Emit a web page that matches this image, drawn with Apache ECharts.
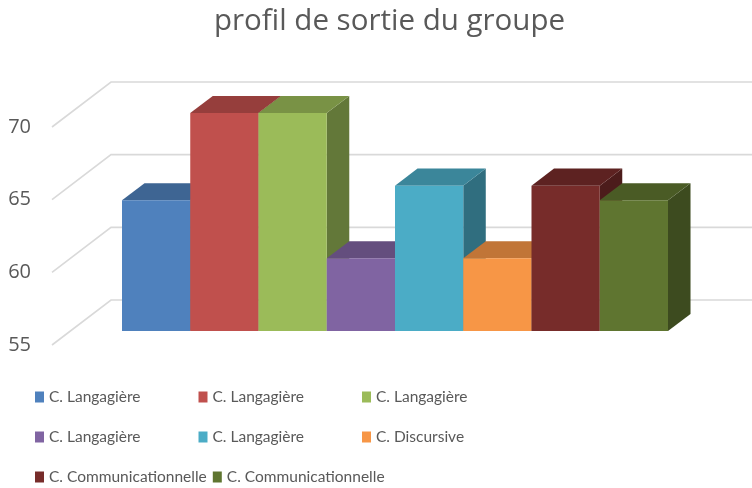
<!DOCTYPE html>
<html>
<head>
<meta charset="utf-8">
<script src="https://cdn.jsdelivr.net/npm/echarts@6/dist/echarts.min.js"></script>
<style>
  html, body { margin: 0; padding: 0; background: #fff; }
  #chart { width: 752px; height: 488px; }
</style>
</head>
<body>
<div id="chart"></div>
<script>
  const titleText = 'profil de sortie du groupe';
  const seriesNames = ['C. Langagière', 'C. Langagière', 'C. Langagière', 'C. Langagière',
    'C. Langagière', 'C. Discursive', 'C. Communicationnelle', 'C. Communicationnelle'];
  const seriesValues = [64, 70, 70, 60, 65, 60, 65, 64];
  const seriesColors = ['#4F81BD', '#C0504D', '#9BBB59', '#8064A2', '#4BACC6', '#F79646', '#772C2A', '#5F7530'];
  const yTicks = [55, 60, 65, 70];
  const slots = seriesNames.map((n, i) => 's' + i);

  const textColor = '#595959';

  // legend keys must be unique, the label strips the suffix
  const uid = i => seriesNames[i] + '#' + i;

  function shade(hex, f) {
    const n = parseInt(hex.slice(1), 16);
    const r = Math.round(((n >> 16) & 255) * f);
    const g = Math.round(((n >> 8) & 255) * f);
    const b = Math.round((n & 255) * f);
    return 'rgb(' + r + ',' + g + ',' + b + ')';
  }

  // one 3D column: side, top, then front face
  function renderBar(params, api) {
    const i = api.value(0);
    const top = api.coord([i, api.value(1)]);
    const base = api.coord([i, yTicks[0]]);
    const bw = api.size([1, 0])[0];
    const x0 = top[0] - bw / 2, x1 = top[0] + bw / 2;
    const dx = bw * 0.33, dy = -bw * 0.25;
    const color = api.visual('color');
    return {
      type: 'group',
      children: [
        { type: 'polygon', shape: { points: [[x1, top[1]], [x1 + dx, top[1] + dy], [x1 + dx, base[1] + dy], [x1, base[1]]] },
          style: { fill: shade(color, 0.64) } },
        { type: 'polygon', shape: { points: [[x0, top[1]], [x0 + dx, top[1] + dy], [x1 + dx, top[1] + dy], [x1, top[1]]] },
          style: { fill: shade(color, 0.78) } },
        { type: 'rect', shape: { x: x0, y: top[1], width: bw, height: base[1] - top[1] },
          style: { fill: color } }
      ]
    };
  }

  // side and back wall gridlines, one per y tick
  function renderWall(params, api) {
    const cs = params.coordSys;
    const p = api.coord([0, api.value(1)]);
    return {
      type: 'polyline',
      shape: { points: [[cs.x - 70, p[1] + 14], [cs.x - 11, p[1] - 31], [cs.x + cs.width + 200, p[1] - 31]] },
      style: { stroke: '#d9d9d9', lineWidth: 1.6, fill: null }
    };
  }

  const series = [{
    type: 'custom',
    name: 'wall',
    silent: true,
    z: 1,
    renderItem: renderWall,
    data: yTicks.map(v => [0, v])
  }];
  seriesValues.forEach((v, i) => {
    series.push({
      type: 'custom',
      name: uid(i),
      z: 2 + i,
      itemStyle: { color: seriesColors[i] },
      renderItem: renderBar,
      data: [[i, v]]
    });
  });

  // three legend rows, the first two on fixed columns
  const legendRows = [[0, 1, 2], [3, 4, 5], [6, 7]];
  const legend = legendRows.map((row, r) => ({
    orient: 'horizontal',
    left: 35,
    top: 387 + r * 40,
    padding: 0,
    itemGap: r < 2 ? 0 : 6,
    itemWidth: 9,
    itemHeight: 11,
    icon: 'rect',
    selectedMode: false,
    data: row.map(uid),
    formatter: name => name.split('#')[0],
    textStyle: Object.assign(
      { fontFamily: 'Lato', fontSize: 15.5, color: textColor, lineHeight: 20 },
      r < 2 ? { width: 149.5 } : {}
    )
  }));

  const chart = echarts.init(document.getElementById('chart'));
  chart.setOption({
    animation: false,
    title: {
      text: titleText,
      left: 214,
      top: 7,
      padding: 0,
      textStyle: { fontFamily: 'Open Sans', fontSize: 29.5, fontWeight: 'normal', color: textColor }
    },
    grid: { left: 122, right: 84, top: 113, bottom: 157 },
    xAxis: {
      type: 'category',
      data: slots,
      show: false
    },
    yAxis: {
      type: 'value',
      min: 55,
      max: 70,
      interval: 5,
      axisLine: { show: false },
      axisTick: { show: false },
      splitLine: { show: false },
      axisLabel: {
        margin: 91,
        verticalAlign: 'top',
        lineHeight: 28,
        fontFamily: 'Open Sans',
        fontSize: 20,
        color: textColor
      }
    },
    legend: legend,
    series: series
  });
</script>
</body>
</html>
